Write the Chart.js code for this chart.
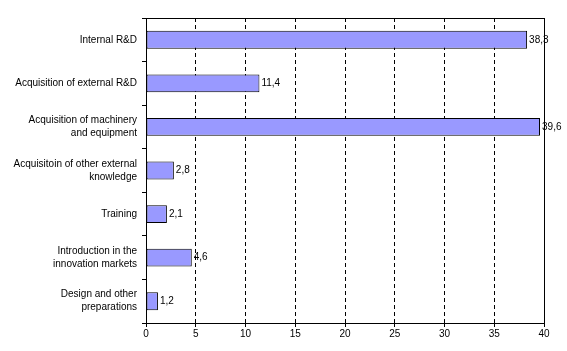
<!DOCTYPE html>
<html>
<head>
<meta charset="utf-8">
<script src="https://cdn.jsdelivr.net/npm/chart.js@4"></script>
<style>
  html, body { margin: 0; padding: 0; background: #fff; }
  #wrap { width: 567px; height: 351px; }
</style>
</head>
<body>
<div id="wrap"><canvas id="innovChart"></canvas></div>
<script>
// categories (top to bottom)
let categories = [
  'Internal R&D',
  'Acquisition of external R&D',
  ['Acquisition of machinery', 'and equipment'],
  ['Acquisitoin of other external', 'knowledge'],
  'Training',
  ['Introduction in the', 'innovation markets'],
  ['Design and other', 'preparations']
];
// shares, %
let shares = [38.3, 11.4, 39.6, 2.8, 2.1, 4.6, 1.2];
let xTicks = [0, 5, 10, 15, 20, 25, 30, 35, 40];

// value labels at bar ends, decimal comma
let valueLabels = {
  id: 'valueLabels',
  afterDatasetsDraw(chart) {
    let c = chart.ctx;
    c.save();
    c.font = '10px "Liberation Sans", Arial, sans-serif';
    c.fillStyle = '#000';
    c.textBaseline = 'middle';
    c.textAlign = 'left';
    chart.getDatasetMeta(0).data.forEach((bar, i) => {
      c.fillText(String(shares[i]).replace('.', ','), bar.x + 2, bar.y);
    });
    c.restore();
  }
};

// box around plot area (top and right edges)
let plotBox = {
  id: 'plotBox',
  afterDraw(chart) {
    let a = chart.chartArea;
    let c = chart.ctx;
    c.save();
    c.strokeStyle = '#000';
    c.lineWidth = 1;
    c.strokeRect(Math.round(a.left) + 0.5, Math.round(a.top) + 0.5,
      Math.round(a.right - a.left), Math.round(a.bottom - a.top));
    c.restore();
  }
};

let ctx = document.getElementById('innovChart').getContext('2d');
let myChart = new Chart(ctx, {
  type: 'bar',
  data: {
    labels: categories,
    datasets: [{
      data: shares,
      backgroundColor: '#9999FF',
      borderColor: '#000000',
      borderWidth: 1,
      borderSkipped: false,
      categoryPercentage: 1,
      barPercentage: 0.41
    }]
  },
  options: {
    indexAxis: 'y',
    responsive: true,
    maintainAspectRatio: false,
    animation: false,
    devicePixelRatio: 1,
    layout: { padding: { top: 14, right: 23, bottom: 10, left: 0 } },
    plugins: {
      legend: { display: false },
      tooltip: { enabled: false }
    },
    scales: {
      x: {
        min: 0,
        max: 40,
        afterBuildTicks: axis => { axis.ticks = xTicks.map(v => ({ value: v })); },
        grid: {
          color: '#000',
          lineWidth: 1,
          tickLength: 4,
          tickColor: '#000'
        },
        border: { color: '#000', dash: [4, 3] },
        ticks: {
          color: '#000',
          padding: 1,
          maxRotation: 0,
          font: { family: '"Liberation Sans", Arial, sans-serif', size: 10 }
        }
      },
      y: {
        afterFit: axis => { axis.width = 146; },
        grid: {
          offset: true,
          drawOnChartArea: false,
          color: '#000',
          tickLength: 4
        },
        border: { color: '#000' },
        ticks: {
          color: '#000',
          padding: 5,
          font: { family: '"Liberation Sans", Arial, sans-serif', size: 10, lineHeight: 1.3 }
        }
      }
    }
  },
  plugins: [valueLabels, plotBox]
});
</script>
</body>
</html>
